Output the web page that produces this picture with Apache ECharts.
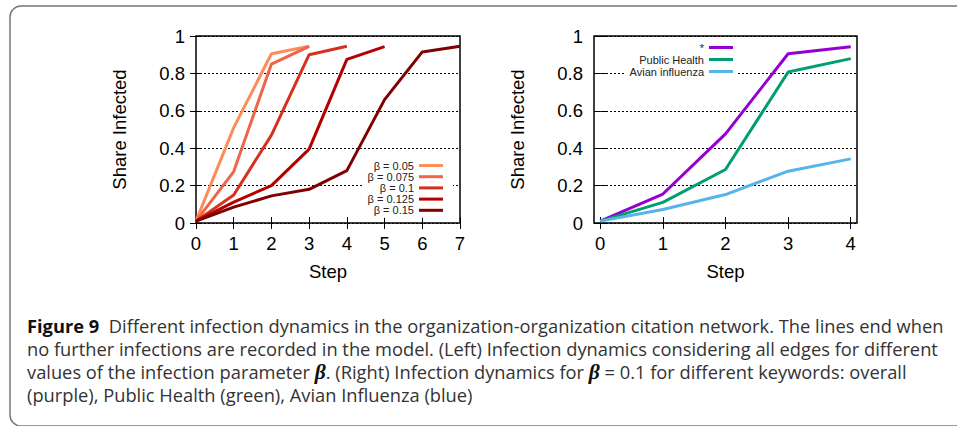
<!DOCTYPE html>
<html><head><meta charset="utf-8">
<script src="https://cdn.jsdelivr.net/npm/echarts@6/dist/echarts.min.js"></script>
<style>html,body{margin:0;padding:0;background:#fff}#c{width:957px;height:426px}</style>
</head><body><div id="c"></div>
<script>
// ---- data ----
const leftSteps = [0, 1, 2, 3, 4, 5, 6, 7];
const leftNames = ['β = 0.05', 'β = 0.075', 'β = 0.1', 'β = 0.125', 'β = 0.15'];
const beta005  = [0.01, 0.51, 0.905, 0.945];
const beta0075 = [0.01, 0.275, 0.85, 0.945];
const beta01   = [0.01, 0.15, 0.47, 0.90, 0.945];
const beta0125 = [0.01, 0.112, 0.20, 0.395, 0.875, 0.943];
const beta015  = [0.01, 0.085, 0.145, 0.18, 0.28, 0.66, 0.915, 0.945];
const leftColors = ['#fc8d59', '#ef6548', '#d7301f', '#b30000', '#7f0000'];

const rightSteps = [0, 1, 2, 3, 4];
const rightNames = ['*', 'Public Health', 'Avian influenza'];
const overall      = [0.01, 0.155, 0.477, 0.905, 0.943];
const publicHealth = [0.01, 0.11, 0.286, 0.807, 0.879];
const avian        = [0.01, 0.072, 0.152, 0.277, 0.343];
const rightColors = ['#9400d3', '#009e73', '#56b4e9'];

const rightXTicks = [0, 1, 2, 3, 4];
const axisTitleX = 'Step';
const axisTitleY = 'Share Infected';
const captionLines = [
  '{b|Figure 9}  Different infection dynamics in the organization-organization citation network. The lines end when',
  'no further infections are recorded in the model. (Left) Infection dynamics considering all edges for different',
  'values of the infection parameter {g|β}. (Right) Infection dynamics for {g|β} = 0.1 for different keywords: overall',
  '(purple), Public Health (green), Avian Influenza (blue)'
];

// ---- chart ----
const FONT = 'Liberation Sans';
const AX = 18.5;
const chart = echarts.init(document.getElementById('c'), null, {renderer: 'svg'});

function pairs(xs, ys) { return ys.map((v, i) => [xs[i], v]); }

function xAxesFor(gi, min, max, custom) {
  const base = {
    type: 'value', gridIndex: gi, min: min, max: max,
    axisLine: {show: false},
    splitLine: {show: false}
  };
  const tick = {show: true, inside: true, length: 6, lineStyle: {color: '#000', width: 1}};
  const lab = {show: true, color: '#000', fontFamily: FONT, fontSize: AX, margin: 11};
  if (custom) { tick.customValues = custom; lab.customValues = custom; }
  else { base.interval = 1; }
  return [
    Object.assign({}, base, {position: 'bottom', axisTick: tick, axisLabel: lab,
      name: axisTitleX, nameLocation: 'middle', nameGap: 39,
      nameTextStyle: {color: '#000', fontFamily: FONT, fontSize: AX}}),
    Object.assign({}, base, {position: 'top', axisTick: tick, axisLabel: {show: false}})
  ];
}
function yAxesFor(gi) {
  const base = {type: 'value', gridIndex: gi, min: 0, max: 1, interval: 0.2,
    axisLine: {show: false},
    axisTick: {show: true, inside: true, length: 6, lineStyle: {color: '#000', width: 1}}};
  return [
    Object.assign({}, base, {position: 'left',
      axisLabel: {color: '#000', fontFamily: FONT, fontSize: AX, margin: 11},
      splitLine: {show: true, lineStyle: {color: '#000', width: 1, type: [2, 2]}},
      name: axisTitleY, nameLocation: 'middle', nameGap: 67,
      nameTextStyle: {color: '#000', fontFamily: FONT, fontSize: AX}}),
    Object.assign({}, base, {position: 'right', axisLabel: {show: false}, splitLine: {show: false}})
  ];
}

const leftData = [beta005, beta0075, beta01, beta0125, beta015];
const rightData = [overall, publicHealth, avian];
const series = [];
leftData.forEach((d, i) => series.push({
  type: 'line', name: leftNames[i], xAxisIndex: 0, yAxisIndex: 0,
  data: pairs(leftSteps, d), showSymbol: false, symbol: 'none',
  color: leftColors[i], lineStyle: {width: 3, color: leftColors[i]}, z: 2 + i
}));
rightData.forEach((d, i) => series.push({
  type: 'line', name: rightNames[i], xAxisIndex: 2, yAxisIndex: 2,
  data: pairs(rightSteps, d), showSymbol: false, symbol: 'none',
  color: rightColors[i], lineStyle: {width: 3, color: rightColors[i]}, z: 2 + i
}));

const legendBase = {
  orient: 'vertical', align: 'right', icon: 'rect', itemWidth: 24, itemHeight: 3,
  backgroundColor: '#fff', selectedMode: false,
  textStyle: {color: '#222', fontFamily: FONT, fontSize: 11, lineHeight: 11}
};

const option = {
  animation: false,
  backgroundColor: '#fff',
  grid: [
    {left: 196, top: 36, width: 264, height: 187, show: true, borderColor: '#000', borderWidth: 1.5, backgroundColor: 'transparent'},
    {left: 594, top: 36, width: 263, height: 187, show: true, borderColor: '#000', borderWidth: 1.5, backgroundColor: 'transparent'}
  ],
  xAxis: [].concat(xAxesFor(0, 0, 7, null), xAxesFor(1, -0.1, 4.1, rightXTicks)),
  yAxis: [].concat(yAxesFor(0), yAxesFor(1)),
  legend: [
    Object.assign({}, legendBase, {data: leftNames, right: 504, top: 158, itemGap: 0.2, padding: [2, 10, 2, 5]}),
    Object.assign({}, legendBase, {data: rightNames, right: 220, top: 40, itemGap: 1, padding: [2, 4, 2, 5]})
  ],
  series: series,
  graphic: [
    {type: 'rect', z: -10, silent: true,
      shape: {x: 10, y: 6, width: 1010, height: 420, r: 11},
      style: {fill: 'none', stroke: '#777', lineWidth: 1.5}}
  ].concat(captionLines.map((t, i) => ({
    type: 'text', silent: true, x: 27, y: 325 + i * 23.3,
    style: {
      text: t, fill: '#333', fontFamily: 'Open Sans', fontSize: 18.3,
      verticalAlign: 'middle',
      rich: {
        b: {fontFamily: 'Open Sans', fontWeight: 'bold', fontSize: 18.3, fill: '#111'},
        g: {fontFamily: 'Liberation Serif', fontWeight: 'bold', fontStyle: 'italic', fontSize: 21.5, fill: '#111'}
      }
    }
  })))
};
chart.setOption(option);
</script>
</body></html>
